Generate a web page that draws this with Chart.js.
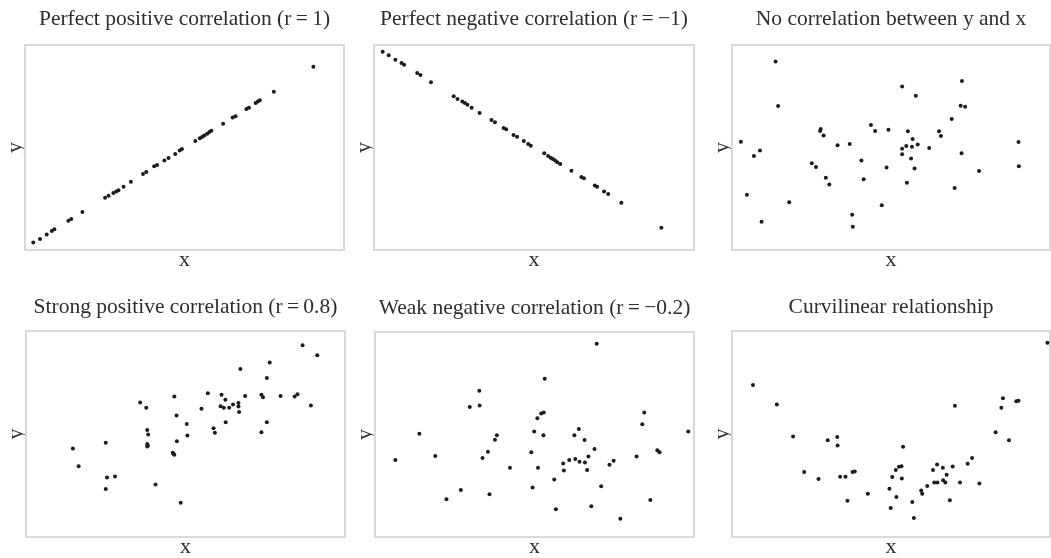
<!DOCTYPE html>
<html>
<head>
<meta charset="utf-8">
<script src="https://cdn.jsdelivr.net/npm/chart.js@4.4.1/dist/chart.umd.min.js"></script>
<style>
    html, body { margin: 0; padding: 0; background: #fff; overflow: hidden; }
    body { width: 1051px; height: 558px; position: relative; }
    canvas { position: absolute; }
</style>
</head>
<body>
<canvas id="c0"></canvas>
<canvas id="c1"></canvas>
<canvas id="c2"></canvas>
<canvas id="c3"></canvas>
<canvas id="c4"></canvas>
<canvas id="c5"></canvas>
<script>
// Tiêu đề các biểu đồ
const titles = [
    'Perfect positive correlation (r\u2009=\u20091)',
    'Perfect negative correlation (r\u2009=\u2009\u22121)',
    'No correlation between y and x',
    'Strong positive correlation (r\u2009=\u20090.8)',
    'Weak negative correlation (r\u2009=\u2009\u22120.2)',
    'Curvilinear relationship'
];

// Dữ liệu (thang 0–100 trên mỗi trục)
const posX = [2.6, 4.7, 6.8, 8.4, 9.2, 13.6, 14.5, 18.0, 25.1, 26.2, 27.7, 28.6, 29.3, 30.9, 33.2, 37.0, 38.0, 40.5, 41.4, 43.7, 45.0, 47.1, 48.5, 49.2, 53.4, 54.8, 55.5, 56.2, 57.1, 57.8, 58.4, 62.1, 65.1, 66.0, 69.4, 70.2, 72.3, 73.0, 73.6, 78.0, 90.4];
const posY = [3.6, 5.4, 7.6, 9.3, 10.1, 14.3, 15.1, 18.5, 25.5, 26.5, 27.8, 28.5, 29.1, 30.9, 33.3, 37.1, 38.0, 40.8, 41.5, 43.6, 44.9, 46.8, 48.5, 49.3, 53.2, 54.5, 55.1, 55.9, 56.7, 57.6, 58.2, 61.6, 64.6, 65.2, 68.8, 69.4, 71.7, 72.4, 73.0, 77.2, 89.4];

const negX = [2.7, 4.6, 6.7, 8.6, 9.4, 13.5, 14.5, 17.8, 24.9, 26.1, 27.6, 28.4, 29.2, 30.5, 33.0, 36.7, 37.8, 40.5, 41.3, 43.6, 44.7, 46.8, 48.2, 49.0, 53.2, 54.4, 55.2, 55.9, 56.6, 57.3, 58.2, 61.7, 64.8, 65.6, 69.0, 69.7, 71.9, 73.2, 77.3, 89.8];
const negY = [96.7, 95.0, 92.8, 91.2, 90.4, 86.3, 85.4, 81.8, 75.0, 73.7, 72.4, 71.7, 70.9, 69.4, 66.8, 63.4, 62.3, 59.5, 58.9, 56.1, 55.3, 53.2, 51.7, 50.9, 47.2, 45.9, 45.0, 44.4, 43.6, 42.8, 42.0, 38.7, 35.6, 35.0, 31.5, 30.9, 28.5, 27.3, 23.1, 10.9];

const noneX = [13.7, 14.5, 2.8, 8.8, 6.9, 4.7, 9.3, 18.0, 27.9, 27.7, 28.8, 25.1, 26.4, 29.5, 30.6, 33.2, 37.0, 37.8, 38.0, 40.7, 41.4, 43.7, 45.0, 47.1, 48.6, 49.2, 53.5, 53.5, 53.5, 54.8, 55.0, 55.3, 56.3, 56.6, 56.8, 57.4, 57.8, 58.4, 62.0, 65.1, 65.7, 69.1, 70.0, 71.9, 73.3, 72.3, 72.2, 77.7, 90.1, 90.2];
const noneY = [92.0, 70.2, 52.8, 48.5, 45.9, 27.0, 13.8, 23.3, 59.0, 58.0, 55.9, 42.3, 40.5, 35.3, 32.0, 51.1, 51.7, 17.2, 11.4, 43.7, 34.5, 61.0, 58.0, 21.8, 40.3, 58.7, 79.8, 49.4, 46.7, 50.7, 32.8, 57.9, 44.6, 50.4, 54.1, 39.7, 75.3, 51.5, 49.8, 57.9, 55.6, 63.9, 30.2, 70.4, 69.9, 82.4, 47.2, 38.5, 52.7, 40.8];

const strongX = [14.7, 16.5, 25.0, 25.4, 27.9, 25.0, 35.8, 37.7, 38.0, 38.3, 38.0, 38.2, 38.0, 40.6, 46.5, 47.2, 47.3, 46.0, 46.2, 46.5, 48.5, 50.4, 50.6, 55.0, 57.0, 58.8, 59.2, 61.3, 61.0, 62.0, 62.5, 62.6, 63.7, 64.9, 66.6, 66.6, 66.8, 67.2, 68.7, 73.8, 73.8, 74.3, 75.5, 75.5, 76.4, 79.8, 84.2, 85.1, 86.7, 89.3, 91.3];
const strongY = [43.0, 34.4, 45.7, 28.9, 29.4, 23.3, 65.3, 62.7, 52.0, 49.8, 45.2, 44.4, 43.9, 25.5, 68.2, 59.0, 46.5, 40.9, 40.4, 39.9, 16.6, 54.9, 49.3, 62.2, 69.8, 52.8, 50.6, 69.0, 63.5, 62.7, 66.6, 55.7, 62.8, 64.3, 65.1, 63.3, 60.7, 81.6, 68.5, 50.9, 69.0, 67.9, 77.2, 55.7, 84.7, 68.5, 68.2, 69.3, 93.1, 63.8, 88.2];

const weakX = [6.4, 13.9, 18.9, 22.4, 26.9, 29.7, 32.7, 32.8, 33.7, 35.4, 35.9, 37.6, 38.2, 42.3, 49.0, 49.4, 49.9, 50.9, 51.1, 52.1, 52.9, 52.8, 53.2, 56.2, 56.7, 59.0, 59.2, 60.9, 62.5, 62.8, 63.9, 64.1, 65.7, 65.8, 66.5, 66.9, 67.8, 68.8, 69.5, 70.9, 73.5, 74.8, 76.9, 82.0, 83.8, 84.4, 86.3, 88.5, 89.2, 98.2];
const weakY = [37.6, 50.4, 39.5, 18.4, 22.9, 63.4, 71.4, 64.2, 38.5, 41.6, 20.8, 47.5, 49.6, 33.8, 41.3, 24.2, 51.5, 57.9, 33.8, 60.2, 60.7, 49.6, 77.2, 28.1, 13.5, 35.8, 32.4, 37.6, 49.6, 38.0, 52.7, 36.7, 47.3, 36.4, 32.7, 39.3, 15.0, 42.9, 94.3, 24.7, 35.3, 37.2, 8.9, 39.3, 55.0, 60.7, 18.0, 42.3, 41.3, 51.5];

const curveX = [6.6, 14.1, 19.2, 22.7, 27.2, 30.1, 33.1, 33.2, 34.0, 35.7, 36.3, 37.9, 38.6, 42.7, 49.5, 49.9, 50.4, 51.5, 51.7, 52.5, 53.3, 53.4, 53.8, 56.7, 57.2, 59.5, 59.8, 61.4, 63.2, 63.6, 64.5, 64.6, 66.3, 66.4, 67.1, 67.5, 68.5, 69.4, 70.1, 71.7, 74.1, 75.5, 77.8, 82.9, 84.7, 85.2, 87.1, 89.4, 90.1, 99.2];
const curveY = [73.8, 64.3, 48.8, 31.5, 28.1, 47.0, 48.5, 44.4, 29.2, 29.2, 17.6, 31.5, 31.8, 21.0, 23.4, 14.1, 29.1, 32.5, 19.4, 34.1, 34.4, 28.4, 43.8, 17.0, 9.2, 22.6, 21.0, 24.7, 32.5, 26.5, 35.2, 26.5, 33.6, 27.6, 26.5, 30.2, 17.8, 34.2, 63.7, 26.5, 35.5, 38.4, 26.0, 50.9, 62.8, 67.4, 47.0, 65.9, 66.2, 94.3];

const seriesX = [posX, negX, noneX, strongX, weakX, curveX];
const seriesY = [posY, negY, noneY, strongY, weakY, curveY];

// Vị trí khung vẽ của từng biểu đồ trên trang
const boxes = [
    { left: 25, top: 45, width: 319, height: 205, titleTop: 7 },
    { left: 374, top: 45, width: 320, height: 205, titleTop: 7 },
    { left: 732, top: 45, width: 318, height: 205, titleTop: 7 },
    { left: 26, top: 331, width: 319, height: 206, titleTop: 9 },
    { left: 375, top: 332, width: 319, height: 205, titleTop: 9 },
    { left: 732, top: 331, width: 318, height: 206, titleTop: 9 }
];

const TEXT_COLOR = '#2e2e2e';
const FONT = "'Liberation Serif', 'DejaVu Serif', serif";
const AXIS_W = 20;   // chiều rộng nhãn trục y
const AXIS_H = 20;   // chiều cao nhãn trục x
const HEAD_H = 45;   // chiều cao vùng tiêu đề
const TITLE_LH = 24;

// Vẽ khung xám quanh vùng dữ liệu
const framePlugin = {
    id: 'frame',
    beforeDatasetsDraw(chart) {
        const a = chart.chartArea;
        const ctx = chart.ctx;
        ctx.save();
        ctx.strokeStyle = '#d9d9d9';
        ctx.lineWidth = 2;
        ctx.strokeRect(a.left, a.top, a.right - a.left, a.bottom - a.top);
        ctx.restore();
    }
};

function renderPanel(i) {
    const box = boxes[i];
    const canvas = document.getElementById('c' + i);
    canvas.width = box.width + AXIS_W * 2;
    canvas.height = box.height + HEAD_H + AXIS_H;
    canvas.style.left = (box.left - AXIS_W) + 'px';
    canvas.style.top = (box.top - HEAD_H) + 'px';

    const points = seriesX[i].map((x, k) => ({ x: x, y: seriesY[i][k] }));

    new Chart(canvas.getContext('2d'), {
        type: 'scatter',
        data: {
            datasets: [{
                data: points,
                backgroundColor: '#1c1c1c',
                borderWidth: 0,
                pointRadius: 2,
                pointHoverRadius: 2
            }]
        },
        options: {
            responsive: false,
            animation: false,
            events: [],
            layout: { autoPadding: false, padding: 0 },
            plugins: {
                legend: { display: false },
                tooltip: { enabled: false },
                title: {
                    display: true,
                    text: titles[i],
                    color: TEXT_COLOR,
                    font: { family: FONT, size: 21.5, weight: 'normal', lineHeight: TITLE_LH + 'px' },
                    padding: { top: box.titleTop, bottom: HEAD_H - TITLE_LH - box.titleTop }
                }
            },
            scales: {
                x: {
                    type: 'linear',
                    min: 0,
                    max: 100,
                    grid: { display: false },
                    border: { display: false },
                    ticks: { display: false },
                    afterFit: scale => { scale.height = AXIS_H; },
                    title: {
                        display: true,
                        text: 'x',
                        color: TEXT_COLOR,
                        font: { family: FONT, size: 22, lineHeight: AXIS_H + 'px' },
                        padding: { top: 0, bottom: 0 }
                    }
                },
                y: {
                    type: 'linear',
                    min: 0,
                    max: 100,
                    grid: { display: false },
                    border: { display: false },
                    ticks: { display: false },
                    afterFit: scale => { scale.width = AXIS_W; },
                    title: {
                        display: true,
                        text: 'y',
                        color: TEXT_COLOR,
                        font: { family: FONT, size: 22, lineHeight: AXIS_W + 'px' },
                        padding: { top: 0, bottom: 0 }
                    }
                },
                // trục phụ bên phải (trống) để tiêu đề nằm giữa khung
                yRight: {
                    type: 'linear',
                    position: 'right',
                    min: 0,
                    max: 1,
                    grid: { display: false },
                    border: { display: false },
                    ticks: { display: false },
                    afterFit: scale => { scale.width = AXIS_W; }
                }
            }
        },
        plugins: [framePlugin]
    });
}

document.addEventListener('DOMContentLoaded', function () {
    for (let i = 0; i < boxes.length; i++) {
        renderPanel(i);
    }
});
</script>
</body>
</html>
